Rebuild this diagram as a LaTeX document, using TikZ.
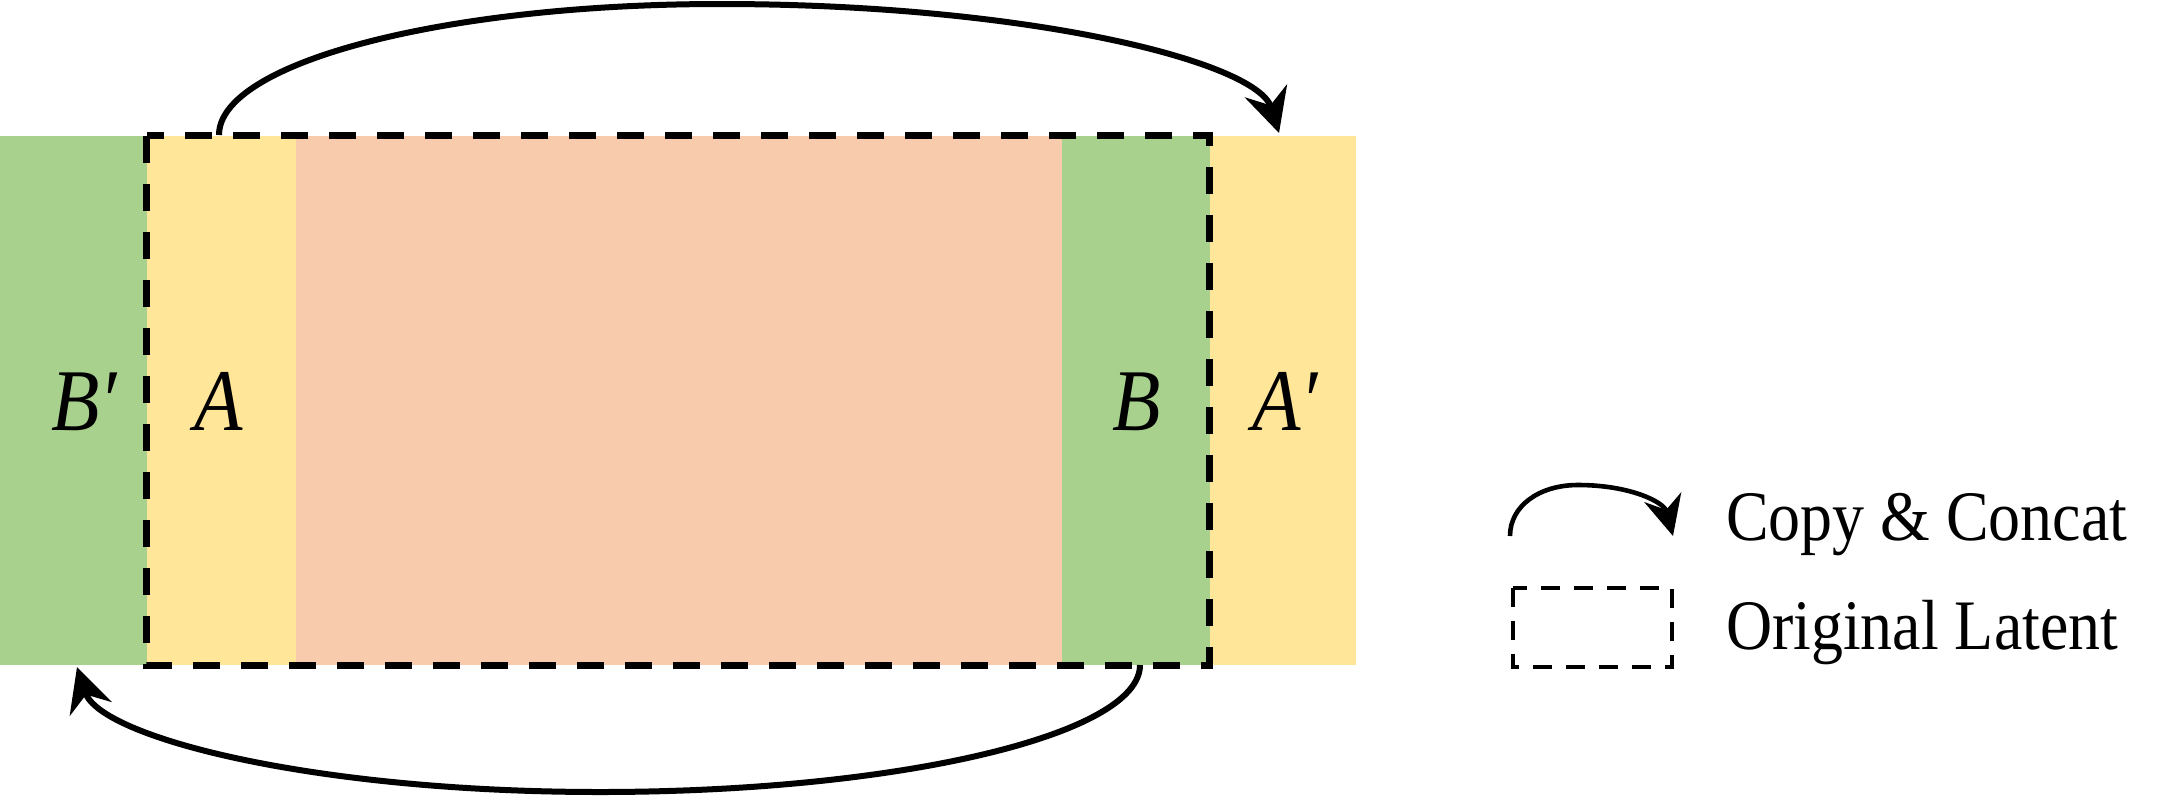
\documentclass[tikz,border=0pt]{standalone}
\usepackage{fontspec}
\setmainfont{Liberation Serif}
\usetikzlibrary{arrows.meta}
\definecolor{cgreen}{HTML}{A9D18E}
\definecolor{cyellow}{HTML}{FFE699}
\definecolor{corange}{HTML}{F8CBAD}
\begin{document}
\begin{tikzpicture}[x=0.5pt,y=-0.5pt,
  lbl/.style={inner sep=0pt, outer sep=0pt, anchor=base, font=\fontsize{44}{50}\selectfont\itshape},
  legtext/.style={inner sep=0pt, outer sep=0pt, anchor=base west, font=\fontsize{35.5}{40}\selectfont},
  orig/.style={draw=black, line width=3.5pt, dash pattern=on 13.5pt off 10.5pt},
  legbox/.style={draw=black, line width=2.2pt, dash pattern=on 9.5pt off 7pt},
  cc/.style={draw=black, line width=3pt, -{Stealth[length=22pt,width=22pt,inset=7.5pt]}},
  legcc/.style={draw=black, line width=2.3pt, -{Stealth[length=20pt,width=19pt,inset=6.5pt]}},
]
\useasboundingbox (0,0) rectangle (2168,799);
% bands
\fill[cgreen]  (0,135.5) rectangle (146.6,665);
\fill[cyellow] (146.6,135.5) rectangle (295.9,665);
\fill[corange] (295.9,135.5) rectangle (1061.9,665);
\fill[cgreen]  (1061.9,135.5) rectangle (1209.9,665);
\fill[cyellow] (1209.9,135.5) rectangle (1356.4,665);
% original latent
\draw[orig] (146.6,135.5) rectangle (1209.9,665);
% labels
\node[lbl] (bp) at (84,430) {\scalebox{0.9}[1]{B′}};
\node[lbl] (a)  at (219,430) {\scalebox{0.9}[1]{A}};
\node[lbl] (b)  at (1137,430) {\scalebox{0.9}[1]{B}};
\node[lbl] (ap) at (1285,430) {\scalebox{0.9}[1]{A′}};
% arrows
\coordinate (s1) at (219,135);
\coordinate (t1) at (1279,133);
\draw[cc] (s1) .. controls (219,63) and (443,4) .. (720,4) .. controls (1029,4) and (1257,62) .. (t1);
\coordinate (s2) at (1140,665);
\coordinate (t2) at (77,667);
\draw[cc] (s2) .. controls (1140,735) and (898,792) .. (600,792) .. controls (311,792) and (100,737) .. (t2);
% legend
\coordinate (ls) at (1510,536);
\coordinate (lt) at (1673,536);
\draw[legcc] (ls) .. controls (1510,506) and (1539,485) .. (1578,485) .. controls (1630,485) and (1664,502) .. (lt);
\draw[legbox] (1513,588) rectangle (1672,667);
\node[legtext] (l1) at (1726,540) {\scalebox{0.9}[1]{Copy \& Concat}};
\node[legtext] (l2) at (1726,649) {\scalebox{0.9}[1]{Original Latent}};
\end{tikzpicture}
\end{document}
